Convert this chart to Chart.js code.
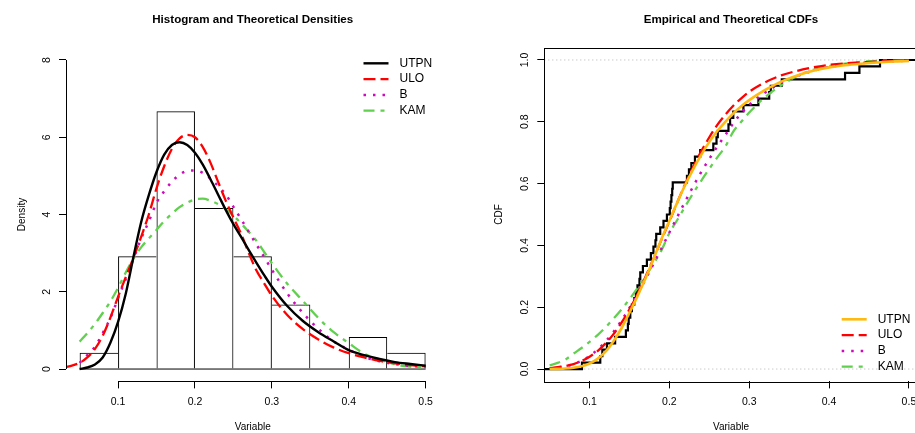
<!DOCTYPE html>
<html>
<head>
<meta charset="utf-8">
<script src="https://cdn.jsdelivr.net/npm/chart.js@4.4.1/dist/chart.umd.min.js"></script>
<style>
  html, body { margin: 0; padding: 0; background: #fff; }
  body { width: 915px; height: 433px; position: relative; overflow: hidden; }
  #leftBox { position: absolute; left: 0; top: 0; width: 458px; height: 433px; }
  #rightBox { position: absolute; left: 458px; top: 0; width: 457px; height: 433px; overflow: hidden; }
  #rightInner { position: relative; width: 480px; height: 433px; }
</style>
</head>
<body>
<div id="leftBox"><canvas id="densChart"></canvas></div>
<div id="rightBox"><div id="rightInner"><canvas id="cdfChart"></canvas></div></div>
<script>
// ---- data ----
const seriesNames = ['UTPN', 'ULO', 'B', 'KAM'];

// histogram (density scale)
const histBreaks = [0.05, 0.10, 0.15, 0.20, 0.25, 0.30, 0.35, 0.40, 0.45, 0.50];
const histDensity = [0.42, 2.92, 6.67, 4.17, 2.92, 1.67, 0, 0.83, 0.42];

// theoretical densities
const densX = [0.032, 0.04, 0.05, 0.06, 0.07, 0.08, 0.09, 0.10, 0.11, 0.12, 0.13, 0.14, 0.15, 0.16, 0.17, 0.18, 0.19, 0.20,
               0.21, 0.22, 0.23, 0.24, 0.25, 0.26, 0.27, 0.28, 0.29, 0.30, 0.32, 0.34, 0.36, 0.38, 0.40, 0.42, 0.44, 0.46, 0.48, 0.50];
const densUTPN = [null, null, 0, 0.04, 0.12, 0.3, 0.68, 1.22, 1.95, 2.9, 3.8, 4.5, 5.1, 5.55, 5.8, 5.87, 5.8, 5.6,
                  5.3, 4.92, 4.52, 4.12, 3.75, 3.42, 3.08, 2.75, 2.43, 2.13, 1.63, 1.25, 0.96, 0.72, 0.49, 0.36, 0.26, 0.18, 0.13, 0.085];
const densULO = [0.05, 0.09, 0.16, 0.3, 0.52, 0.86, 1.33, 1.87, 2.38, 2.88, 3.42, 4.0, 4.68, 5.25, 5.7, 5.97, 6.06, 6.0,
                 5.75, 5.35, 4.85, 4.36, 3.92, 3.5, 3.0, 2.55, 2.22, 1.9, 1.4, 1.04, 0.77, 0.56, 0.41, 0.3, 0.21, 0.15, 0.1, 0.07];
const densB = [null, null, 0.16, 0.36, 0.58, 0.93, 1.32, 1.83, 2.33, 2.85, 3.38, 3.82, 4.3, 4.6, 4.85, 5.03, 5.13, 5.14,
               5.08, 4.93, 4.74, 4.52, 4.2, 3.88, 3.55, 3.22, 2.9, 2.57, 1.96, 1.46, 1.05, 0.72, 0.5, 0.32, 0.2, 0.13, 0.08, 0.05];
const densKAM = [null, null, 0.71, 0.93, 1.17, 1.45, 1.75, 2.1, 2.5, 2.86, 3.15, 3.38, 3.6, 3.83, 4.02, 4.19, 4.31, 4.39,
                 4.41, 4.36, 4.27, 4.14, 3.97, 3.77, 3.55, 3.32, 3.03, 2.74, 2.21, 1.77, 1.33, 0.96, 0.67, 0.4, 0.25, 0.12, 0.06, 0.04];

// sorted sample behind the empirical CDF
const sample = [0.0905,
  0.1134, 0.116, 0.1218, 0.132, 0.1455, 0.148, 0.149,
  0.151, 0.153, 0.156, 0.158, 0.160, 0.1625, 0.1635, 0.1668, 0.1718, 0.1768, 0.180, 0.1825, 0.1835, 0.1885, 0.1926, 0.1969,
  0.2005, 0.2015, 0.2025, 0.2035, 0.2042, 0.222, 0.2245, 0.2275, 0.232, 0.2386,
  0.255, 0.259, 0.2606, 0.274, 0.276, 0.28, 0.2927,
  0.3115, 0.325, 0.327, 0.3408,
  0.42, 0.438,
  0.4638];

// theoretical CDFs
const cdfX = [0.05, 0.06, 0.07, 0.08, 0.09, 0.10, 0.11, 0.12, 0.13, 0.14, 0.15, 0.16, 0.17, 0.18, 0.19, 0.20,
              0.21, 0.22, 0.23, 0.24, 0.25, 0.26, 0.27, 0.28, 0.29, 0.30, 0.32, 0.34, 0.36, 0.38, 0.40, 0.42, 0.44, 0.46, 0.48, 0.50];
const cdfUTPN = [0, 0.0005, 0.0015, 0.004, 0.009, 0.018, 0.033, 0.056, 0.09, 0.132, 0.182, 0.236, 0.293, 0.355, 0.42, 0.48,
                 0.54, 0.597, 0.648, 0.694, 0.735, 0.77, 0.8, 0.827, 0.85, 0.87, 0.903, 0.93, 0.95, 0.965, 0.976, 0.983, 0.988, 0.992, 0.995, 0.997];
const cdfULO = [0.003, 0.006, 0.01, 0.016, 0.026, 0.04, 0.058, 0.083, 0.113, 0.15, 0.193, 0.243, 0.298, 0.357, 0.418, 0.478,
                0.54, 0.6, 0.655, 0.705, 0.75, 0.79, 0.823, 0.852, 0.876, 0.897, 0.928, 0.95, 0.965, 0.976, 0.984, 0.989, 0.992, 0.995, 0.997, 0.998];
const cdfB = [0.002, 0.005, 0.009, 0.016, 0.027, 0.042, 0.063, 0.089, 0.12, 0.157, 0.198, 0.243, 0.29, 0.34, 0.39, 0.442,
              0.493, 0.543, 0.592, 0.638, 0.68, 0.72, 0.757, 0.795, 0.828, 0.855, 0.895, 0.925, 0.948, 0.965, 0.977, 0.985, 0.99, 0.994, 0.996, 0.998];
const cdfKAM = [0.012, 0.02, 0.031, 0.05, 0.068, 0.088, 0.11, 0.135, 0.163, 0.193, 0.226, 0.262, 0.3, 0.34, 0.384, 0.44,
                0.483, 0.527, 0.57, 0.61, 0.648, 0.685, 0.72, 0.768, 0.8, 0.83, 0.88, 0.918, 0.948, 0.968, 0.98, 0.988, 0.994, 0.997, 0.998, 0.999];

// axes
const densXLim = [0.0323, 0.518];
const densYLim = [-0.32, 8.32];
const densXTicks = [0.1, 0.2, 0.3, 0.4, 0.5];
const densXTickLabels = ['0.1', '0.2', '0.3', '0.4', '0.5'];
const densYTicks = [0, 2, 4, 6, 8];
const densYTickLabels = ['0', '2', '4', '6', '8'];
const cdfXLim = [0.0433, 0.511];
const cdfYLim = [-0.04, 1.04];
const cdfXTicks = [0.1, 0.2, 0.3, 0.4, 0.5];
const cdfXTickLabels = ['0.1', '0.2', '0.3', '0.4', '0.5'];
const cdfYTicks = [0, 0.2, 0.4, 0.6, 0.8, 1.0];
const cdfYTickLabels = ['0.0', '0.2', '0.4', '0.6', '0.8', '1.0'];

// ---- drawing ----
Chart.defaults.font.family = '"Liberation Sans", Arial, Helvetica, sans-serif';
Chart.defaults.color = '#000';
Chart.defaults.animation = false;

const FONT = '"Liberation Sans", Arial, Helvetica, sans-serif';

function pts(xs, ys) {
    return xs.map((x, i) => ({x: x, y: ys[i]}));
}

function curve(label, xs, ys, color, dash, width, order) {
    return {
        type: 'line', label: label, data: pts(xs, ys),
        borderColor: color, borderDash: dash, borderWidth: width,
        pointRadius: 0, fill: false, cubicInterpolationMode: 'monotone',
        order: order
    };
}

// R-like axis lines, optional box and a legend drawn from the datasets
const rStyle = {
    id: 'rStyle',
    afterDraw(chart, args, opts) {
        const ctx = chart.ctx;
        const a = chart.chartArea;
        const xs = chart.scales.x, ys = chart.scales.y;
        ctx.save();
        ctx.strokeStyle = '#000';
        ctx.lineWidth = 1;
        ctx.setLineDash([]);
        if (opts.box) {
            ctx.strokeRect(Math.round(a.left) + 0.5, Math.round(a.top) + 0.5,
                Math.round(a.right - a.left), Math.round(a.bottom - a.top));
        } else {
            const xt = opts.xTicks, yt = opts.yTicks;
            const by = Math.round(a.bottom) + 0.5, lx = Math.round(a.left) + 0.5;
            ctx.beginPath();
            ctx.moveTo(xs.getPixelForValue(xt[0]), by);
            ctx.lineTo(xs.getPixelForValue(xt[xt.length - 1]), by);
            ctx.moveTo(lx, ys.getPixelForValue(yt[0]));
            ctx.lineTo(lx, ys.getPixelForValue(yt[yt.length - 1]));
            ctx.stroke();
        }
        // legend
        const x0 = a.right - 76;
        let y = opts.legendTop ? a.top + 15.7 : a.bottom - 14.7 - 15.8 * (seriesNames.length - 1);
        ctx.font = '12px ' + FONT;
        ctx.textBaseline = 'middle';
        ctx.textAlign = 'left';
        ctx.fillStyle = '#000';
        seriesNames.forEach(name => {
            const ds = chart.data.datasets.find(d => d.label === name);
            ctx.save();
            ctx.strokeStyle = ds.borderColor;
            ctx.lineWidth = ds.borderWidth;
            ctx.setLineDash(ds.borderDash || []);
            ctx.beginPath();
            ctx.moveTo(x0, y);
            ctx.lineTo(x0 + 25, y);
            ctx.stroke();
            ctx.restore();
            ctx.fillText(name, x0 + 36, y);
            y += 15.8;
        });
        ctx.restore();
    }
};

function scaleX(lim, ticks, labels, height) {
    return {
        type: 'linear', position: 'bottom', min: lim[0], max: lim[1], offset: false,
        afterBuildTicks: s => { s.ticks = ticks.map(v => ({value: v})); },
        afterFit: s => { s.height = height; },
        ticks: { font: {size: 10.5}, padding: 7, maxRotation: 0, autoSkip: false,
                 callback: (v, i) => labels[i] },
        grid: { display: true, offset: false, drawOnChartArea: false, drawTicks: true,
                tickLength: 7, color: '#000', lineWidth: 1 },
        border: { display: false },
        title: { display: true, text: 'Variable', font: {size: 10}, padding: {top: 0, bottom: 0} }
    };
}

function scaleY(lim, ticks, labels, width, pad, title, titlePad) {
    return {
        type: 'linear', position: 'left', min: lim[0], max: lim[1],
        afterBuildTicks: s => { s.ticks = ticks.map(v => ({value: v})); },
        afterFit: s => { s.width = width; },
        ticks: { font: {size: 10.5}, padding: pad, minRotation: 90, maxRotation: 90,
                 crossAlign: 'center', autoSkip: false, callback: (v, i) => labels[i] },
        grid: { display: true, drawOnChartArea: false, drawTicks: true,
                tickLength: 7, color: '#000', lineWidth: 1 },
        border: { display: false },
        title: { display: true, text: title, font: {size: 10}, padding: {top: titlePad, bottom: 0} }
    };
}

function titleOpts(text) {
    return {
        display: true, text: text, fullSize: false, color: '#000',
        font: {size: 11.6, weight: 'bold'}, padding: {top: 12.8, bottom: 20.9}
    };
}

const last = histDensity.length - 1;
const histMid = histDensity.map((d, i) => (histBreaks[i] + histBreaks[i + 1]) / 2);

new Chart(document.getElementById('densChart'), {
    type: 'line',
    data: {
        datasets: [
            curve('UTPN', densX, densUTPN, '#000000', [], 2.4, 1),
            curve('ULO', densX, densULO, '#FF0000', [12, 5], 2.3, 2),
            curve('B', densX, densB, '#CD0BBC', [2.5, 7], 2.5, 3),
            curve('KAM', densX, densKAM, '#61D04F', [11, 6, 4, 6], 2.3, 4),
            {
                type: 'bar', label: 'hist', data: pts(histMid, histDensity),
                backgroundColor: 'rgba(0,0,0,0)', borderColor: '#000',
                borderSkipped: false, inflateAmount: 0, grouped: false,
                barPercentage: 1, categoryPercentage: 1,
                borderWidth: c => {
                    const i = c.dataIndex, h = histDensity;
                    return {
                        top: 1, bottom: 0,
                        left: (i === 0 || h[i] >= h[i - 1]) ? 1 : 0,
                        right: (i === last || h[i] > h[i + 1]) ? 1 : 0
                    };
                },
                order: 6
            },
            {
                type: 'line', label: 'base',
                data: [{x: histBreaks[0], y: 0}, {x: histBreaks[histBreaks.length - 1], y: 0}],
                borderColor: '#000', borderWidth: 1, pointRadius: 0, order: 5
            }
        ]
    },
    options: {
        responsive: true, maintainAspectRatio: false, devicePixelRatio: 1, events: [],
        layout: { padding: {left: 0, right: 18.5, top: 0, bottom: 0} },
        scales: {
            x: scaleX(densXLim, densXTicks, densXTickLabels, 51.6),
            y: scaleY(densYLim, densYTicks, densYTickLabels, 66, 9.4, 'Density', 16)
        },
        plugins: {
            legend: { display: false },
            tooltip: { enabled: false },
            title: titleOpts('Histogram and Theoretical Densities'),
            rStyle: { box: false, legendTop: true, xTicks: densXTicks, yTicks: densYTicks }
        }
    },
    plugins: [rStyle]
});

const ecdfPts = [{x: cdfXLim[0], y: 0}]
    .concat(sample.map((v, i) => ({x: v, y: (i + 1) / sample.length})))
    .concat([{x: cdfXLim[1], y: 1}]);

new Chart(document.getElementById('cdfChart'), {
    type: 'line',
    data: {
        datasets: [
            curve('UTPN', cdfX, cdfUTPN, '#FFB90F', [], 2.6, 1),
            curve('ULO', cdfX, cdfULO, '#FF0000', [12, 5], 2.3, 2),
            curve('B', cdfX, cdfB, '#CD0BBC', [2.5, 7], 2.5, 3),
            curve('KAM', cdfX, cdfKAM, '#61D04F', [11, 6, 4, 6], 2.3, 4),
            {
                type: 'line', label: 'ecdf', data: ecdfPts, stepped: true,
                borderColor: '#000', borderWidth: 2.2, pointRadius: 0, order: 5
            },
            {
                type: 'line', label: 'h0', data: [{x: cdfXLim[0], y: 0}, {x: cdfXLim[1], y: 0}],
                borderColor: '#B3B3B3', borderWidth: 1, borderDash: [1, 3], pointRadius: 0, order: 6
            },
            {
                type: 'line', label: 'h1', data: [{x: cdfXLim[0], y: 1}, {x: cdfXLim[1], y: 1}],
                borderColor: '#B3B3B3', borderWidth: 1, borderDash: [1, 3], pointRadius: 0, order: 6
            }
        ]
    },
    options: {
        responsive: true, maintainAspectRatio: false, devicePixelRatio: 1, events: [],
        layout: { padding: {left: 0, right: 20.3, top: 0, bottom: 0} },
        scales: {
            x: scaleX(cdfXLim, cdfXTicks, cdfXTickLabels, 51.6),
            y: scaleY(cdfYLim, cdfYTicks, cdfYTickLabels, 86.3, 5, 'CDF', 35.3)
        },
        plugins: {
            legend: { display: false },
            tooltip: { enabled: false },
            title: titleOpts('Empirical and Theoretical CDFs'),
            rStyle: { box: true, legendTop: false, xTicks: cdfXTicks, yTicks: cdfYTicks }
        }
    },
    plugins: [rStyle]
});
</script>
</body>
</html>
